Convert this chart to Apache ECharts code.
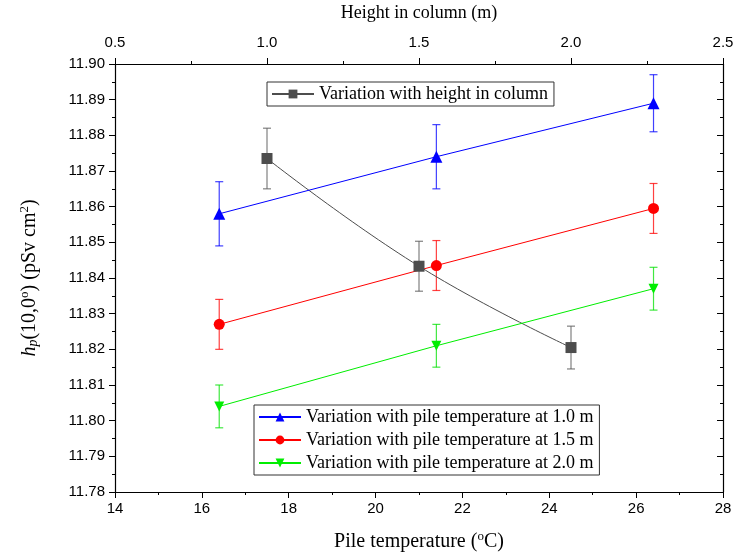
<!DOCTYPE html>
<html lang="en">
<head>
    <meta http-equiv="content-type" content="text/html;charset=utf-8">
    <title>Pile temperature / height</title>
    <script src="https://cdn.jsdelivr.net/npm/echarts@6/dist/echarts.min.js"></script>
    <style>
        html, body { margin: 0; padding: 0; background: #fff; }
        #main { width: 733px; height: 556px; }
    </style>
</head>
<body>
<div id="main"></div>
<script>
    // pile temperature points (bottom axis)
    var pileTemp = [16.4, 21.4, 26.4];
    var at10 = [11.858, 11.874, 11.889];
    var err10 = [0.009, 0.009, 0.008];
    var at15 = [11.827, 11.8435, 11.8595];
    var err15 = [0.007, 0.007, 0.007];
    var at20 = [11.804, 11.821, 11.837];
    var err20 = [0.006, 0.006, 0.006];
    // height in column (top axis)
    var heights = [1.0, 1.5, 2.0];
    var heightVals = [11.8735, 11.8433, 11.8205];
    var heightErr = [0.0085, 0.007, 0.006];

    var names = [
        'Variation with height in column',
        'Variation with pile temperature at 1.0 m',
        'Variation with pile temperature at 1.5 m',
        'Variation with pile temperature at 2.0 m'
    ];

    function pairs(xs, ys) {
        return xs.map(function (x, i) { return [x, ys[i]]; });
    }
    function bars(xs, ys, es) {
        return xs.map(function (x, i) { return [x, ys[i] - es[i], ys[i] + es[i]]; });
    }

    // error bar drawn through the axes
    function errorSeries(xIdx, data, color) {
        return {
            type: 'custom',
            xAxisIndex: xIdx,
            yAxisIndex: 0,
            silent: true,
            z: 1,
            data: data,
            renderItem: function (params, api) {
                var lo = api.coord([api.value(0), api.value(1)]);
                var hi = api.coord([api.value(0), api.value(2)]);
                var w = 4;
                var st = { stroke: color, lineWidth: 1.2, opacity: 0.75 };
                return {
                    type: 'group',
                    children: [
                        { type: 'line', shape: { x1: lo[0], y1: lo[1], x2: hi[0], y2: hi[1] }, style: st },
                        { type: 'line', shape: { x1: lo[0] - w, y1: lo[1], x2: lo[0] + w, y2: lo[1] }, style: st },
                        { type: 'line', shape: { x1: hi[0] - w, y1: hi[1], x2: hi[0] + w, y2: hi[1] }, style: st }
                    ]
                };
            }
        };
    }

    var serif = '"Liberation Serif", "Times New Roman", serif';
    var sans = '"Liberation Sans", Arial, sans-serif';
    var axLine = { show: true, lineStyle: { color: '#000', width: 1.2 } };

    var myChart = echarts.init(document.getElementById('main'));
    var option = {
        animation: false,
        backgroundColor: '#fff',
        grid: { left: 115, right: 10, top: 64, bottom: 64, outerBoundsMode: 'none', containLabel: false },
        legend: [
            {
                data: [names[0]],
                left: 267, top: 82,
                orient: 'vertical',
                borderColor: '#333', borderWidth: 1,
                padding: [3, 6, 3, 4],
                itemWidth: 42, itemHeight: 11,
                itemGap: 4,
                textStyle: { fontFamily: serif, fontSize: 18, color: '#000' }
            },
            {
                data: [names[1], names[2], names[3]],
                left: 254, top: 405,
                orient: 'vertical',
                borderColor: '#333', borderWidth: 1,
                padding: [3, 6, 3, 4],
                itemWidth: 42, itemHeight: 11,
                itemGap: 5,
                textStyle: { fontFamily: serif, fontSize: 18, color: '#000' }
            }
        ],
        xAxis: [
            {
                type: 'value', position: 'bottom',
                min: 14, max: 28, interval: 2,
                axisLine: axLine,
                axisTick: { inside: false, length: 6, lineStyle: { color: '#000' } },
                minorTick: { show: true, splitNumber: 2, length: 3, lineStyle: { color: '#000' } },
                splitLine: { show: false },
                axisLabel: { fontFamily: sans, fontSize: 15, color: '#000', margin: 9 },
                name: '{t|Pile temperature (}{s|o}{t|C)}',
                nameLocation: 'middle', nameGap: 38, nameMoveOverlap: false,
                nameTextStyle: {
                    rich: {
                        t: { fontFamily: serif, fontSize: 20, color: '#000' },
                        s: { fontFamily: serif, fontSize: 13, color: '#000', padding: [0, 0, 10, 0] }
                    }
                }
            },
            {
                type: 'value', position: 'top',
                min: 0.5, max: 2.5, interval: 0.5,
                axisLine: axLine,
                axisTick: { inside: false, length: 6, lineStyle: { color: '#000' } },
                minorTick: { show: true, splitNumber: 2, length: 3, lineStyle: { color: '#000' } },
                splitLine: { show: false },
                axisLabel: {
                    fontFamily: sans, fontSize: 15, color: '#000', margin: 14,
                    formatter: function (v) { return v.toFixed(1); }
                },
                name: 'Height in column (m)',
                nameLocation: 'middle', nameGap: 42, nameMoveOverlap: false,
                nameTextStyle: { fontFamily: serif, fontSize: 18, color: '#000' }
            }
        ],
        yAxis: [
            {
                type: 'value', position: 'left',
                min: 11.78, max: 11.90, interval: 0.01,
                axisLine: axLine,
                axisTick: { inside: false, length: 6, lineStyle: { color: '#000' } },
                minorTick: { show: true, splitNumber: 2, length: 3, lineStyle: { color: '#000' } },
                splitLine: { show: false },
                axisLabel: {
                    fontFamily: sans, fontSize: 15, color: '#000', margin: 10,
                    formatter: function (v) { return v.toFixed(2); }
                },
                name: '{i|h}{ip|p}{t|(10,0}{s|o}{t|) (pSv cm}{s|2}{t|)}',
                nameLocation: 'middle', nameGap: 74, nameRotate: 90, nameMoveOverlap: false,
                nameTextStyle: {
                    rich: {
                        i: { fontFamily: serif, fontSize: 20, fontStyle: 'italic', color: '#000' },
                        ip: { fontFamily: serif, fontSize: 14, fontStyle: 'italic', color: '#000', padding: [8, 0, 0, 0] },
                        t: { fontFamily: serif, fontSize: 20, color: '#000' },
                        s: { fontFamily: serif, fontSize: 13, color: '#000', padding: [0, 0, 10, 0] }
                    }
                }
            },
            {
                type: 'value', position: 'right',
                min: 11.78, max: 11.90, interval: 0.01,
                axisLine: axLine,
                axisTick: { inside: true, length: 6, lineStyle: { color: '#000' } },
                minorTick: { show: true, splitNumber: 2, length: 3, lineStyle: { color: '#000' } },
                splitLine: { show: false },
                axisLabel: { show: false }
            }
        ],
        series: [
            errorSeries(1, bars(heights, heightVals, heightErr), '#555555'),
            errorSeries(0, bars(pileTemp, at10, err10), '#0000ff'),
            errorSeries(0, bars(pileTemp, at15, err15), '#ff0000'),
            errorSeries(0, bars(pileTemp, at20, err20), '#00e000'),
            {
                name: names[0], type: 'line',
                xAxisIndex: 1, yAxisIndex: 0,
                smooth: 0.45,
                data: pairs(heights, heightVals),
                symbol: 'rect', symbolSize: 11,
                itemStyle: { color: '#4d4d4d' },
                lineStyle: { color: '#4d4d4d', width: 1 },
                z: 3
            },
            {
                name: names[1], type: 'line',
                xAxisIndex: 0, yAxisIndex: 0,
                data: pairs(pileTemp, at10),
                symbol: 'triangle', symbolSize: 12,
                itemStyle: { color: '#0000ff' },
                lineStyle: { color: '#0000ff', width: 1 },
                z: 3
            },
            {
                name: names[2], type: 'line',
                xAxisIndex: 0, yAxisIndex: 0,
                data: pairs(pileTemp, at15),
                symbol: 'circle', symbolSize: 11,
                itemStyle: { color: '#ff0000' },
                lineStyle: { color: '#ff0000', width: 1 },
                z: 3
            },
            {
                name: names[3], type: 'line',
                xAxisIndex: 0, yAxisIndex: 0,
                data: pairs(pileTemp, at20),
                symbol: 'triangle', symbolRotate: 180, symbolSize: 10,
                itemStyle: { color: '#00ee00' },
                lineStyle: { color: '#00ee00', width: 1 },
                z: 3
            }
        ]
    };
    myChart.setOption(option);
</script>
</body>
</html>
